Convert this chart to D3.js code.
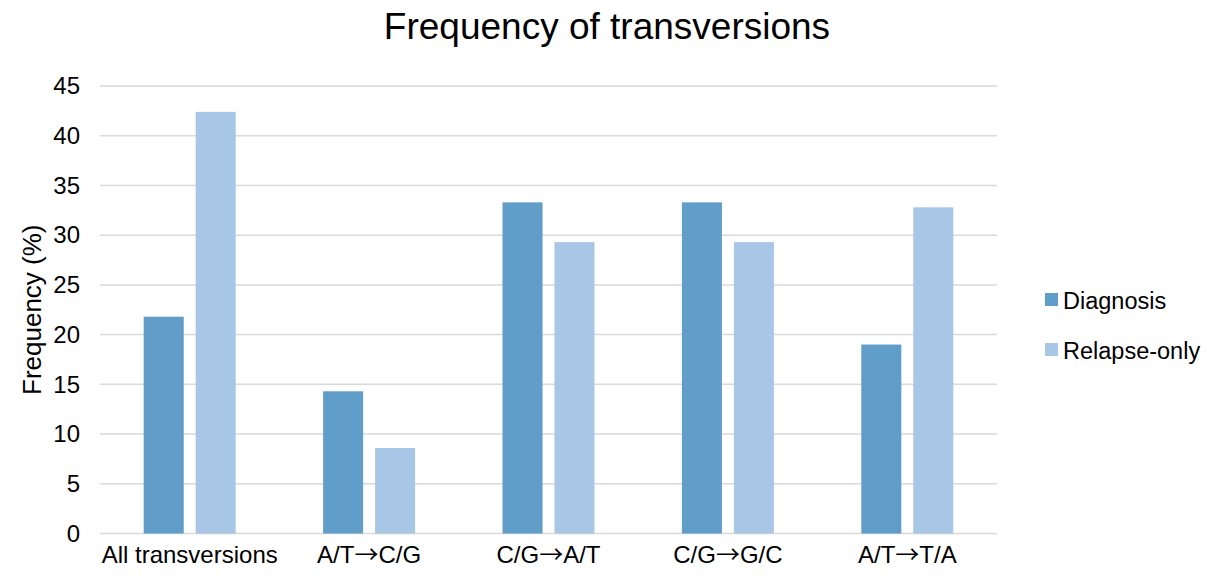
<!DOCTYPE html>
<html>
<head>
<meta charset="utf-8">
<script src="https://cdn.jsdelivr.net/npm/d3@7"></script>
<style>
  body { margin: 0; background: #fff; }
  text { font-family: "Liberation Sans", Arial, sans-serif; fill: #000; }
  .arrow { font-family: "Noto Sans CJK SC", "DejaVu Sans", sans-serif; }
</style>
</head>
<body>
<div id="app"></div>
<script>
const categories = ['All transversions', 'A/T→C/G', 'C/G→A/T', 'C/G→G/C', 'A/T→T/A'];
const seriesNames = ['Diagnosis', 'Relapse-only'];
const diagnosis = [21.8, 14.3, 33.3, 33.3, 19.0];
const relapseOnly = [42.4, 8.6, 29.3, 29.3, 32.8];
const yTicks = [0, 5, 10, 15, 20, 25, 30, 35, 40, 45];
const colors = ['#619dc9', '#a8c6e5'];

const width = 1207;
const height = 578;
const margin = { top: 86, right: 210, bottom: 44.5, left: 100 };
const fontFamily = '"Liberation Sans", Arial, sans-serif';

const svg = d3.select('#app').append('svg')
  .attr('width', width)
  .attr('height', height);

const chartWidth = width - margin.left - margin.right;
const chartHeight = height - margin.top - margin.bottom;

const chartGroup = svg.append('g')
  .attr('transform', `translate(${margin.left}, ${margin.top})`);

const yScale = d3.scaleLinear().domain([0, 45]).range([chartHeight, 0]);
const xScale = d3.scaleBand().domain(categories).range([0, chartWidth]);
// two bars of ~40px with a ~12px gap, centred in each category
const innerScale = d3.scaleBand().domain(seriesNames)
  .range([(xScale.bandwidth() - 92) / 2, (xScale.bandwidth() + 92) / 2])
  .paddingInner(0.23);

// gridlines
chartGroup.append('g')
  .selectAll('line')
  .data(yTicks)
  .enter()
  .append('line')
  .attr('x1', 0)
  .attr('x2', chartWidth)
  .attr('y1', d => yScale(d))
  .attr('y2', d => yScale(d))
  .attr('stroke', '#d9d9d9')
  .attr('stroke-width', 1.5);

// y axis labels
const yAxis = d3.axisLeft(yScale).tickValues(yTicks).tickSize(0).tickPadding(20);
const yAxisGroup = chartGroup.append('g').call(yAxis);
yAxisGroup.select('.domain').remove();
yAxisGroup.attr('font-size', 24).attr('font-family', fontFamily);
yAxisGroup.selectAll('text').attr('fill', '#000');

// x axis labels, arrows drawn in a font with a thin full-width arrow glyph
const xAxis = d3.axisBottom(xScale).tickSize(0).tickPadding(12);
const xAxisGroup = chartGroup.append('g')
  .attr('transform', `translate(0, ${chartHeight})`)
  .call(xAxis);
xAxisGroup.select('.domain').remove();
xAxisGroup.attr('font-size', 24).attr('font-family', fontFamily);
xAxisGroup.selectAll('text')
  .attr('fill', '#000')
  .each(function(d) {
    const t = d3.select(this).text('');
    d.split(/(→)/).forEach(part => {
      if (!part) return;
      const span = t.append('tspan').text(part);
      if (part === '→') span.classed('arrow', true);
    });
  });

// bars
const series = [diagnosis, relapseOnly];
series.forEach((values, s) => {
  chartGroup.append('g')
    .selectAll('rect')
    .data(values)
    .enter()
    .append('rect')
    .attr('x', (d, i) => xScale(categories[i]) + innerScale(seriesNames[s]))
    .attr('y', d => yScale(d))
    .attr('width', innerScale.bandwidth())
    .attr('height', d => chartHeight - yScale(d))
    .attr('fill', colors[s]);
});

// title
svg.append('text')
  .attr('x', 607)
  .attr('y', 39)
  .attr('text-anchor', 'middle')
  .attr('font-size', 37)
  .text('Frequency of transversions');

// y axis title
svg.append('text')
  .attr('transform', `translate(41, ${margin.top + chartHeight / 2}) rotate(-90)`)
  .attr('text-anchor', 'middle')
  .attr('font-size', 26)
  .text('Frequency (%)');

// legend
const legend = svg.append('g').attr('transform', 'translate(1045, 293)');
seriesNames.forEach((name, i) => {
  const row = legend.append('g').attr('transform', `translate(0, ${i * 50})`);
  row.append('rect')
    .attr('x', 0)
    .attr('y', 0)
    .attr('width', 13)
    .attr('height', 13)
    .attr('fill', colors[i]);
  row.append('text')
    .attr('x', 18)
    .attr('y', 16)
    .attr('font-size', 23.5)
    .text(name);
});
</script>
</body>
</html>
